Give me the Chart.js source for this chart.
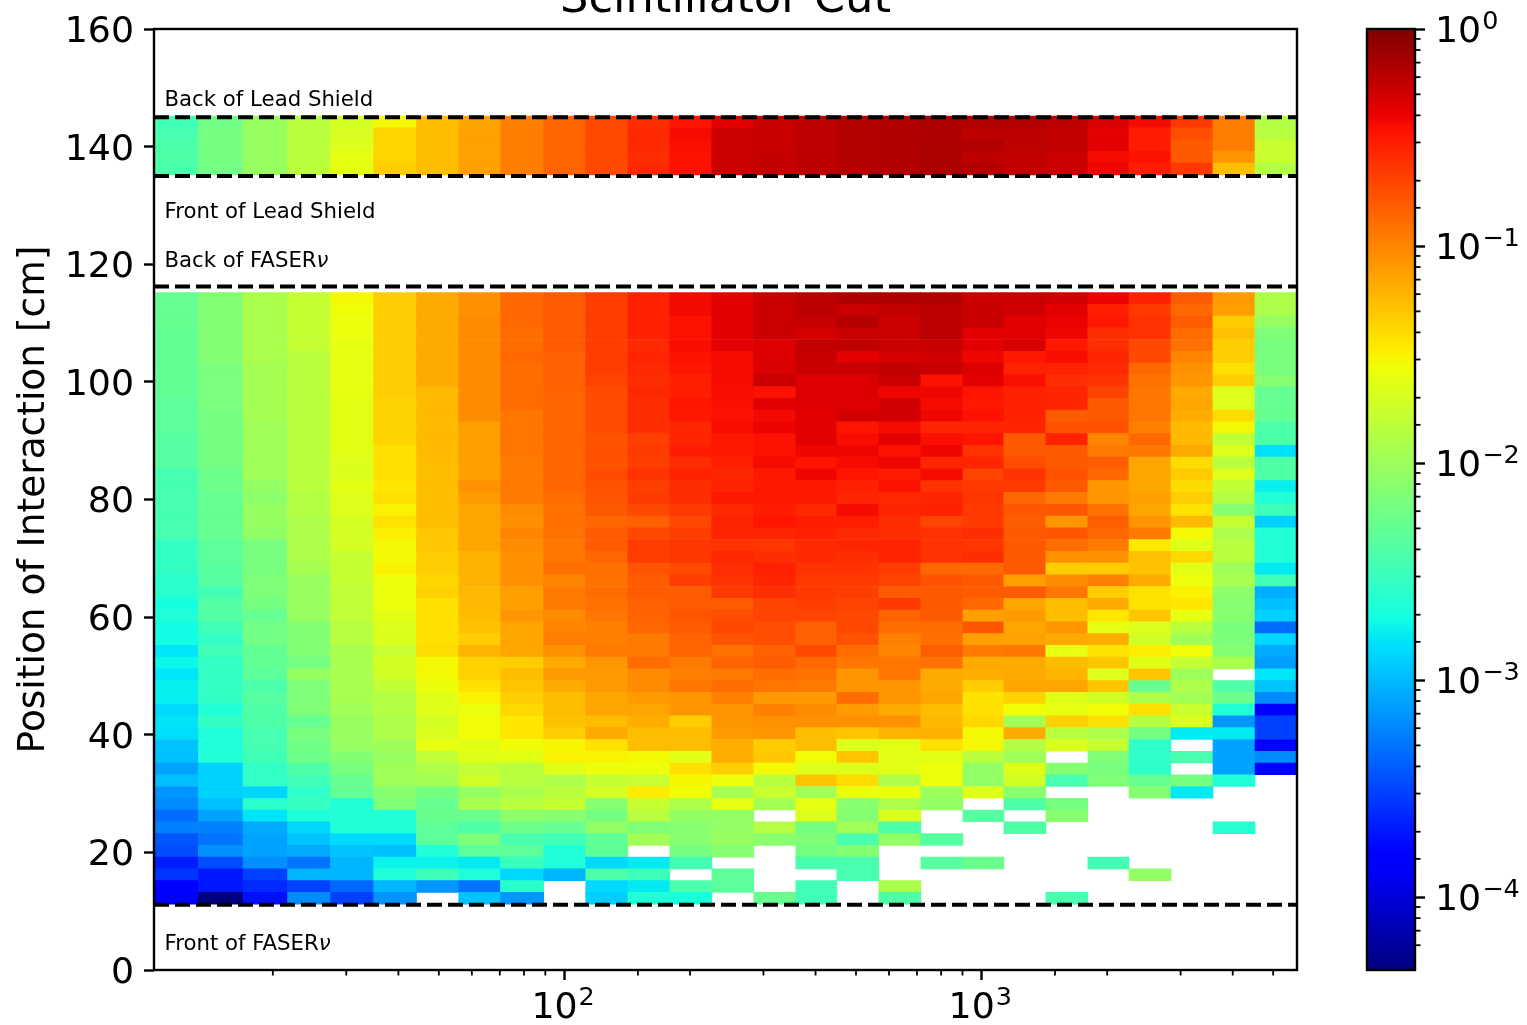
<!DOCTYPE html>
<html>
<head>
<meta charset="utf-8">
<title>Scintillator Cut</title>
<script src="https://cdn.jsdelivr.net/npm/chart.js@4/dist/chart.umd.min.js"></script>
<style>
  html, body { margin: 0; padding: 0; background: #fff; overflow: hidden; width: 1527px; height: 1025px; }
  canvas { position: absolute; top: -40px; }
</style>
</head>
<body>
<canvas id="mapa" width="1340" height="1065" style="left:0"></canvas>
<canvas id="barra" width="187" height="1065" style="left:1340px"></canvas>
<script>
// bin edges of the energy axis (27 bins)
const xEdges = [10.38, 13.27, 16.97, 21.7, 27.5, 34.9, 44.2, 55.8, 70.3, 89.2, 112.5, 141.9, 178.9, 225.6,
  284.4, 358.6, 449.8, 567.1, 715.2, 902, 1131, 1426, 1798, 2256, 2844, 3586, 4524, 5703];

// bin centres of the position axis, same order as the columns below (top to bottom)
const leadRows = [144.2, 142.2, 140.2, 138.2, 136.2];
const detectorRows = [114.2, 112.2, 110.2, 108.2, 106.2, 104.2, 102.2, 100.2, 98.2, 96.2, 94.2, 92.2, 90.2,
  88.2, 86.2, 84.2, 82.2, 80.2, 78.2, 76.2, 74.2, 72.2, 70.2, 68.2, 66.2, 64.2, 62.2, 60.2, 58.2, 56.2,
  54.2, 52.2, 50.2, 48.2, 46.2, 44.2, 42.2, 40.2, 38.2, 36.2, 34.2, 32.2, 30.2, 28.2, 26.2, 24.2, 22.2,
  20.2, 18.2, 16.2, 14.2, 12.2];

// log10 of the normalised rate, one list per energy bin, null = empty cell
const leadLog = [
  [-2.48, -2.44, -2.42, -2.4, -2.42],
  [-2.22, -2.2, -2.2, -2.2, -2.22],
  [-2.02, -2.02, -2.02, -2.02, -2.02],
  [-1.84, -1.84, -1.84, -1.84, -1.84],
  [-1.7, -1.68, -1.66, -1.6, -1.62],
  [-1.53, -1.37, -1.37, -1.37, -1.33],
  [-1.26, -1.26, -1.26, -1.26, -1.26],
  [-1.15, -1.13, -1.13, -1.13, -1.13],
  [-0.98, -0.97, -0.97, -0.97, -0.97],
  [-0.85, -0.85, -0.85, -0.85, -0.85],
  [-0.73, -0.73, -0.73, -0.73, -0.73],
  [-0.6, -0.58, -0.58, -0.6, -0.58],
  [-0.48, -0.44, -0.46, -0.47, -0.47],
  [-0.37, -0.29, -0.29, -0.29, -0.29],
  [-0.27, -0.27, -0.27, -0.26, -0.26],
  [-0.24, -0.24, -0.24, -0.23, -0.23],
  [-0.2, -0.2, -0.2, -0.2, -0.2],
  [-0.19, -0.19, -0.19, -0.19, -0.19],
  [-0.17, -0.18, -0.17, -0.17, -0.17],
  [-0.19, -0.23, -0.19, -0.23, -0.2],
  [-0.19, -0.23, -0.23, -0.25, -0.25],
  [-0.23, -0.25, -0.25, -0.28, -0.28],
  [-0.33, -0.38, -0.37, -0.44, -0.42],
  [-0.44, -0.52, -0.52, -0.47, -0.52],
  [-0.65, -0.75, -0.8, -0.8, -0.65],
  [-0.97, -0.97, -0.97, -1.08, -1.26],
  [-1.88, -1.86, -1.76, -1.76, -1.88]
];

const detectorLog = [
  [-2.28,-2.28,-2.28,-2.3,-2.3,-2.3,-2.3,-2.3,-2.3,-2.33,-2.33,-2.33,-2.37,-2.37,-2.37,-2.45,-2.45,-2.45,
   -2.45,-2.45,-2.45,-2.55,-2.55,-2.55,-2.6,-2.6,-2.7,-2.65,-2.72,-2.72,-2.82,-2.75,-2.82,-2.78,-2.78,-2.87,
   -2.83,-2.85,-2.96,-2.98,-3.1,-2.98,-3.16,-3.2,-3.33,-3.24,-3.43,-3.46,-3.67,-3.57,-3.82,-3.82],
  [-2.13,-2.13,-2.13,-2.13,-2.13,-2.13,-2.17,-2.17,-2.17,-2.17,-2.2,-2.2,-2.2,-2.2,-2.2,-2.25,-2.25,-2.28,
   -2.28,-2.28,-2.28,-2.33,-2.33,-2.36,-2.36,-2.47,-2.38,-2.38,-2.48,-2.55,-2.48,-2.55,-2.55,-2.55,-2.55,-2.65,
   -2.55,-2.66,-2.66,-2.65,-2.9,-2.9,-2.9,-2.98,-3.1,-3.24,-3.3,-3.18,-3.47,-3.7,-3.7,-4.33],
  [-1.92,-1.92,-1.92,-1.92,-1.92,-1.92,-1.95,-1.95,-1.95,-1.95,-1.95,-1.98,-1.98,-1.98,-1.98,-1.98,-2.05,-2.08,
   -2.03,-2.03,-2.06,-2.18,-2.18,-2.18,-2.16,-2.16,-2.2,-2.28,-2.22,-2.22,-2.3,-2.3,-2.33,-2.42,-2.36,-2.4,
   -2.4,-2.45,-2.45,-2.48,-2.56,-2.56,-2.88,-2.6,-2.82,-3.07,-3.1,-3.1,-3.18,-3.52,-3.62,-3.73],
  [-1.78,-1.78,-1.78,-1.78,-1.78,-1.84,-1.84,-1.84,-1.84,-1.84,-1.84,-1.84,-1.84,-1.84,-1.84,-1.84,-1.85,-1.88,
   -1.88,-1.9,-1.9,-1.9,-1.9,-1.95,-2.02,-2.02,-2.02,-2.02,-2.13,-2.13,-2.13,-2.2,-2.03,-2.16,-2.16,-2.15,
   -2.28,-2.18,-2.22,-2.24,-2.4,-2.48,-2.57,-2.53,-2.66,-2.88,-2.96,-3.07,-3.3,-3.02,-3.52,-3.2],
  [-1.53,-1.56,-1.58,-1.58,-1.6,-1.6,-1.6,-1.6,-1.6,-1.63,-1.63,-1.63,-1.63,-1.63,-1.66,-1.66,-1.62,-1.65,
   -1.65,-1.7,-1.7,-1.7,-1.78,-1.78,-1.78,-1.8,-1.8,-1.8,-1.86,-1.86,-1.93,-1.93,-1.93,-1.93,-1.93,-1.97,
   -2.02,-2.02,-2.02,-2.12,-2.18,-2.28,-2.3,-2.65,-2.65,-2.65,-2.86,-2.96,-3.02,-3.02,-3.35,-3.52],
  [-1.33,-1.33,-1.33,-1.33,-1.33,-1.33,-1.33,-1.33,-1.33,-1.36,-1.36,-1.36,-1.36,-1.42,-1.42,-1.42,-1.45,-1.42,
   -1.5,-1.43,-1.49,-1.54,-1.54,-1.5,-1.57,-1.57,-1.57,-1.63,-1.66,-1.66,-1.77,-1.7,-1.72,-1.8,-1.88,-1.88,
   -1.9,-1.9,-1.98,-2.02,-1.98,-1.98,-2.1,-2.15,-2.65,-2.65,-2.86,-2.98,-2.76,-2.66,-3.02,-3.16],
  [-1.17,-1.17,-1.17,-1.17,-1.17,-1.17,-1.17,-1.17,-1.24,-1.24,-1.24,-1.24,-1.24,-1.24,-1.26,-1.26,-1.26,-1.26,
   -1.26,-1.26,-1.31,-1.31,-1.33,-1.33,-1.37,-1.35,-1.42,-1.42,-1.42,-1.42,-1.4,-1.53,-1.53,-1.58,-1.64,-1.64,
   -1.7,-1.67,-1.6,-1.8,-1.9,-1.95,-2.2,-2.28,-2.26,-2.33,-2.33,-2.65,-2.76,-2.5,-3.16,null],
  [-1.05,-1.05,-1.03,-1.03,-1.03,-1.03,-1.03,-1.03,-1.03,-1.03,-1.03,-1.12,-1.12,-1.12,-1.12,-1.12,-1.06,-1.1,
   -1.15,-1.15,-1.15,-1.15,-1.21,-1.21,-1.21,-1.24,-1.24,-1.26,-1.28,-1.33,-1.22,-1.35,-1.35,-1.43,-1.5,-1.58,
   -1.55,-1.55,-1.63,-1.64,-1.8,-1.73,-2.03,-1.93,-2.26,-2.4,-2.16,-2.33,-2.8,-2.66,-3.3,-2.96],
  [-0.87,-0.87,-0.87,-0.89,-0.89,-0.87,-0.89,-0.89,-0.88,-0.88,-0.93,-0.93,-0.93,-0.93,-0.95,-0.95,-0.95,-0.95,
   -1.03,-1.05,-1,-1.03,-1.05,-1.05,-1.05,-1.12,-1.12,-1.08,-1.15,-1.15,-1.15,-1.33,-1.26,-1.3,-1.33,-1.38,
   -1.45,-1.45,-1.55,-1.63,-1.85,-1.85,-1.92,-1.85,-2.08,-2.24,-2.44,-2.33,-2.52,-2.87,-2.6,-3.15],
  [-0.81,-0.81,-0.81,-0.81,-0.81,-0.83,-0.83,-0.83,-0.85,-0.85,-0.85,-0.85,-0.85,-0.86,-0.86,-0.86,-0.86,-0.89,
   -0.91,-0.91,-0.91,-0.93,-0.93,-0.9,-1,-0.95,-0.95,-1.03,-1,-0.98,-1.05,-1.17,-1.1,-1.17,-1.26,-1.26,
   -1.28,-1.33,-1.52,-1.5,-1.64,-1.9,-1.84,-1.78,-2.1,-2.28,-2.48,-2.66,-2.66,-3.02,null,null],
  [-0.67,-0.67,-0.67,-0.67,-0.67,-0.67,-0.67,-0.7,-0.74,-0.74,-0.74,-0.74,-0.77,-0.77,-0.77,-0.74,-0.77,-0.78,
   -0.8,-0.87,-0.81,-0.81,-0.87,-0.91,-0.91,-0.89,-0.91,-0.93,-0.98,-0.98,-0.95,-1.08,-1.1,-1.1,-1.15,-1.15,
   -1.26,-1.17,-1.43,-1.5,-1.57,-1.78,-1.7,-2.1,-2.2,-2.05,-2.32,-2.32,-2.87,-2.42,-2.87,-2.92],
  [-0.54,-0.54,-0.54,-0.54,-0.58,-0.56,-0.58,-0.6,-0.58,-0.6,-0.6,-0.6,-0.68,-0.66,-0.68,-0.63,-0.68,-0.66,
   -0.72,-0.83,-0.72,-0.67,-0.67,-0.78,-0.81,-0.81,-0.83,-0.85,-0.87,-0.95,-0.95,-0.89,-1.03,-1.03,-1.1,-1.15,
   -1.19,-1.26,-1.26,-1.53,-1.57,-1.77,-1.47,-1.78,-1.84,-2.15,-1.97,null,-2.8,-2.5,-2.8,-2.65],
  [-0.43,-0.43,-0.47,-0.47,-0.45,-0.47,-0.49,-0.53,-0.53,-0.48,-0.5,-0.57,-0.56,-0.52,-0.59,-0.55,-0.59,-0.6,
   -0.65,-0.72,-0.67,-0.64,-0.64,-0.73,-0.67,-0.81,-0.81,-0.78,-0.81,-0.85,-0.85,-0.95,-0.98,-0.93,-1.08,-1.08,
   -1.33,-1.26,-1.26,-1.62,-1.42,-1.52,-1.55,-1.9,-2.05,-2.1,-2.1,-2.2,-2.47,null,-2.42,-2.68],
  [-0.37,-0.37,-0.37,-0.37,-0.37,-0.44,-0.44,-0.44,-0.45,-0.46,-0.47,-0.45,-0.5,-0.5,-0.53,-0.57,-0.55,-0.5,
   -0.58,-0.56,-0.56,-0.62,-0.58,-0.6,-0.62,-0.65,-0.81,-0.75,-0.72,-0.78,-0.91,-0.85,-0.95,-0.89,-0.98,-1.08,
   -1.08,-1.1,-1.19,-1.19,-1.33,-1.57,-1.95,-1.6,-2.05,-2.05,-2.02,-2.1,null,-2.33,-2.33,null],
  [-0.27,-0.28,-0.28,-0.28,-0.35,-0.35,-0.33,-0.28,-0.47,-0.37,-0.43,-0.41,-0.47,-0.47,-0.44,-0.5,-0.5,-0.5,
   -0.52,-0.48,-0.56,-0.64,-0.6,-0.54,-0.56,-0.6,-0.7,-0.7,-0.75,-0.75,-0.83,-0.81,-0.89,-0.93,-1.1,-0.98,
   -1.05,-1.08,-1.33,-1.31,-1.54,-1.85,-1.76,-1.96,null,-1.87,-2.1,null,null,null,null,-2.27],
  [-0.22,-0.23,-0.26,-0.32,-0.25,-0.27,-0.28,-0.35,-0.35,-0.35,-0.37,-0.37,-0.37,-0.42,-0.48,-0.42,-0.5,-0.5,
   -0.58,-0.52,-0.54,-0.58,-0.58,-0.62,-0.65,-0.65,-0.67,-0.7,-0.83,-0.83,-0.73,-0.87,-0.91,-0.95,-1.1,-1.03,
   -1.05,-1.26,-1.26,-1.55,-1.65,-1.29,-1.97,-1.6,-1.65,-2.2,-2.15,-2.2,-2.44,null,-2.47,-2.48],
  [-0.18,-0.28,-0.2,-0.28,-0.23,-0.37,-0.27,-0.35,-0.35,-0.35,-0.31,-0.48,-0.45,-0.42,-0.44,-0.48,-0.54,-0.56,
   -0.44,-0.52,-0.58,-0.56,-0.6,-0.62,-0.65,-0.67,-0.7,-0.72,-0.72,-0.76,-0.89,-0.93,-1.08,-1.08,-0.89,-1.1,
   -1.05,-1.3,-1.65,-1.3,-1.65,-1.4,-1.58,-2.1,-2.12,-1.97,-2.44,-2.12,-2.44,-2.44,null,null],
  [-0.18,-0.25,-0.28,-0.28,-0.28,-0.32,-0.25,-0.28,-0.42,-0.31,-0.31,-0.44,-0.38,-0.47,-0.42,-0.52,-0.47,-0.58,
   -0.56,-0.6,-0.6,-0.55,-0.56,-0.67,-0.7,-0.81,-0.65,-0.85,-0.89,-0.98,-1,-0.93,-0.93,-1.08,-1.08,-1.17,
   -1.05,-1.22,-1.63,-1.63,-1.63,-1.9,-1.58,-1.9,-1.67,-2.42,-2.05,null,null,null,-1.92,-2.4],
  [-0.19,-0.22,-0.22,-0.22,-0.27,-0.31,-0.28,-0.47,-0.42,-0.44,-0.42,-0.56,-0.46,-0.42,-0.56,-0.44,-0.62,-0.56,
   -0.54,-0.7,-0.62,-0.62,-0.62,-0.87,-0.76,-0.8,-0.8,-0.8,-0.89,-0.9,-0.82,-0.91,-1.17,-1.17,-1.15,-1.26,
   -1.24,-1.2,-1.42,-1.63,-1.57,-1.57,-2,-2.05,null,null,-2.36,null,-2.36,null,null,null],
  [-0.28,-0.27,-0.27,-0.37,-0.37,-0.42,-0.35,-0.38,-0.48,-0.5,-0.47,-0.56,-0.48,-0.62,-0.56,-0.7,-0.65,-0.64,
   -0.65,-0.66,-0.6,-0.64,-0.6,-0.87,-0.8,-0.81,-0.87,-1.12,-0.79,-1.12,-0.95,-1.17,-1.19,-1.33,-1.43,-1.42,
   -1.38,-1.53,-1.53,-1.84,-2.05,-2.05,-1.65,null,-2.36,null,null,null,-2.26,null,null,null],
  [-0.28,-0.3,-0.37,-0.37,-0.32,-0.5,-0.54,-0.46,-0.54,-0.54,-0.54,-0.56,-0.8,-0.8,-0.74,-0.62,-0.65,-0.87,
   -0.79,-0.82,-0.8,-0.8,-0.8,-0.8,-1.12,-0.81,-1.15,-1.1,-1.15,-1.13,-0.93,-1.17,-1.17,-1.15,-1.35,-1.55,
   -1.96,-1.17,-1.88,-1.98,-1.65,-1.72,-2.1,-2.4,null,-2.4,null,null,null,null,null,null],
  [-0.3,-0.37,-0.4,-0.42,-0.5,-0.45,-0.54,-0.6,-0.56,-0.56,-0.81,-0.77,-0.54,-0.8,-0.8,-0.77,-0.8,-0.95,
   -0.79,-1.08,-0.79,-0.89,-1.05,-1.33,-1.03,-0.93,-1.26,-1.26,-1.08,-1.17,-1.6,-1.26,-1.22,-1.15,-1.64,-1.6,
   -1.35,-1.84,-1.67,null,-2.12,-2.44,null,-2.2,-2.1,null,null,null,null,null,null,-2.44],
  [-0.41,-0.53,-0.5,-0.6,-0.6,-0.56,-0.58,-0.62,-0.7,-0.8,-0.8,-0.77,-1,-0.94,-0.82,-0.87,-1.08,-1.08,
   -0.91,-0.82,-0.87,-0.95,-1.05,-1.33,-0.98,-1.33,-1.17,-1.45,-1.6,-1.19,-1.43,-1.3,-1.65,-1.3,-1.72,-1.55,
   -1.42,-1.9,-1.78,-2.15,-2.18,-2.15,null,null,null,null,null,null,-2.47,null,null,null],
  [-0.54,-0.65,-0.62,-0.62,-0.72,-0.72,-0.87,-0.91,-0.93,-0.93,-0.93,-0.98,-0.87,-0.93,-1.15,-1.15,-1.15,-1.12,
   -1.15,-1.08,-0.95,-1.45,-1.28,-1.28,-1.17,-1.43,-1.43,-1.3,-1.66,-1.72,-1.48,-1.63,-1.3,-2.28,-1.9,-1.42,
   -1.86,-2.2,-2.57,-2.57,-2.57,-2.28,-2.12,null,null,null,null,null,null,-2.05,null,null],
  [-0.81,-0.87,-0.81,-0.89,-0.91,-1,-1.05,-1.08,-1.17,-1.15,-1.19,-1.24,-1.24,-1.17,-1.4,-1.32,-1.4,-1.33,
   -1.43,-1.24,-1.53,-1.64,-1.38,-1.63,-1.57,-1.5,-1.45,-1.6,-1.84,-1.97,-1.55,-1.78,-2,-1.9,-1.97,-1.76,
   -1.67,-2.8,null,-2.44,null,-2.2,-2.8,null,null,null,null,null,null,null,null,null],
  [-1.1,-1.12,-1.33,-1.28,-1.33,-1.33,-1.42,-1.33,-1.66,-1.65,-1.4,-1.53,-1.8,-1.65,-1.85,-1.65,-1.8,-1.88,
   -2.1,-1.78,-1.9,-1.84,-1.85,-1.98,-1.93,-2.08,-2.1,-2.1,-2.18,-2.16,-2.13,-1.93,null,-2.4,-2.25,-2.65,
   -3.15,-2.8,-3.1,-3.1,-3.1,-2.65,null,null,null,-2.62,null,null,null,null,null,null],
  [-1.9,-1.9,-2.03,-2.16,-2.18,-2.18,-2.18,-2.11,-2.28,-2.28,-2.28,-2.42,-2.42,-2.84,-2.4,-2.4,-2.78,-2.65,
   -2.5,-2.9,-2.65,-2.65,-2.65,-2.8,-2.48,-3.05,-2.98,-2.9,-3.33,-2.88,-3.07,-3.12,-2.82,-2.96,-3.2,-3.82,
   -3.52,-3.52,-3.84,-3.2,-3.84,null,null,null,null,null,null,null,null,null,null,null]
];

// dashed marker lines and their captions
const markerLines = [145, 135, 116.2, 11.1];
const captions = ['Back of Lead Shield', 'Front of Lead Shield', 'Back of FASER', 'Front of FASER'];
const captionNu = [false, false, true, true];
const captionX = [11, 11, 11, 11];
const captionY = [146.9, 127.9, 119.6, 3.4];

const colorMinLog = -4.336;
const fuente = 'DejaVu Sans';

// matplotlib jet
const jetR = [[0, 0], [0.35, 0], [0.66, 1], [0.89, 1], [1, 0.5]];
const jetG = [[0, 0], [0.125, 0], [0.375, 1], [0.64, 1], [0.91, 0], [1, 0]];
const jetB = [[0, 0.5], [0.11, 1], [0.34, 1], [0.65, 0], [1, 0]];
const jetStops = [0, 0.11, 0.125, 0.34, 0.35, 0.375, 0.64, 0.65, 0.66, 0.89, 0.91, 1];

function canal(seg, t) {
  for (let i = 1; i < seg.length; i++) {
    if (t <= seg[i][0]) {
      const f = (t - seg[i - 1][0]) / (seg[i][0] - seg[i - 1][0]);
      return Math.round(255 * (seg[i - 1][1] + f * (seg[i][1] - seg[i - 1][1])));
    }
  }
  return Math.round(255 * seg[seg.length - 1][1]);
}

function jet(t) {
  t = Math.min(1, Math.max(0, t));
  return `rgb(${canal(jetR, t)},${canal(jetG, t)},${canal(jetB, t)})`;
}

function colorDeLog(v) {
  return jet((v - colorMinLog) / (0 - colorMinLog));
}

function esPotencia(v) {
  const l = Math.log10(v);
  return Math.abs(l - Math.round(l)) < 1e-9;
}

const celdas = [];
const colores = [];

function agregar(columnas, filas) {
  columnas.forEach((col, c) => {
    col.forEach((v, r) => {
      if (v === null) return;
      celdas.push({ x: [xEdges[c], xEdges[c + 1]], y: filas[r] });
      colores.push(colorDeLog(v));
    });
  });
}
agregar(leadLog, leadRows);
agregar(detectorLog, detectorRows);

function ticksMenores(ctx, scale, horizontal, area) {
  ctx.save();
  ctx.strokeStyle = '#000';
  ctx.lineWidth = 1.8;
  scale.ticks.forEach(t => {
    if (esPotencia(t.value) || t.value <= scale.min || t.value >= scale.max) return;
    const p = scale.getPixelForValue(t.value);
    ctx.beginPath();
    if (horizontal) {
      ctx.moveTo(p, area.bottom);
      ctx.lineTo(p, area.bottom + 5.5);
    } else {
      ctx.moveTo(area.right, p);
      ctx.lineTo(area.right + 5.5, p);
    }
    ctx.stroke();
  });
  ctx.restore();
}

function marco(ctx, area) {
  ctx.save();
  ctx.strokeStyle = '#000';
  ctx.lineWidth = 2.4;
  ctx.strokeRect(area.left, area.top, area.right - area.left, area.bottom - area.top);
  ctx.restore();
}

// 10 with a raised exponent, the way the reference sets its log labels
function potencia(ctx, v, x, base) {
  const e = String(Math.round(Math.log10(v))).replace('-', '\u2212');
  ctx.save();
  ctx.fillStyle = '#000';
  ctx.textAlign = 'left';
  ctx.textBaseline = 'alphabetic';
  ctx.font = `36.3px "${fuente}"`;
  ctx.fillText('10', x, base);
  const w = ctx.measureText('10').width;
  ctx.font = `25.5px "${fuente}"`;
  ctx.fillText(e, x + w + 1, base - 13);
  ctx.restore();
}

const pluginMapa = {
  id: 'pluginMapa',
  afterDraw(chart) {
    const { ctx, chartArea, scales } = chart;
    marco(ctx, chartArea);
    ticksMenores(ctx, scales.x, true, chartArea);
    scales.x.ticks.forEach(t => {
      if (esPotencia(t.value)) potencia(ctx, t.value, scales.x.getPixelForValue(t.value) - 33, chartArea.bottom + 48);
    });
    ctx.save();
    ctx.fillStyle = '#000';
    ctx.textBaseline = 'alphabetic';
    captions.forEach((txt, i) => {
      const px = scales.x.getPixelForValue(captionX[i]);
      const py = scales.y.getPixelForValue(captionY[i]);
      ctx.font = `21.25px "${fuente}"`;
      ctx.fillText(txt, px, py);
      if (captionNu[i]) {
        const w = ctx.measureText(txt).width;
        ctx.font = `italic 21.25px "${fuente}"`;
        ctx.fillText('ν', px + w, py);
      }
    });
    ctx.restore();
  }
};

new Chart(document.getElementById('mapa'), {
  type: 'bar',
  data: {
    datasets: [
      ...markerLines.map(y => ({
        type: 'scatter',
        indexAxis: 'x',
        order: 0,
        showLine: true,
        data: [{ x: xEdges[0], y: y }, { x: xEdges[xEdges.length - 1], y: y }],
        borderColor: '#000',
        borderWidth: 4,
        borderDash: [15, 6],
        pointRadius: 0,
        fill: false
      })),
      {
        order: 1,
        data: celdas,
        backgroundColor: colores,
        borderWidth: 0,
        barPercentage: 1,
        categoryPercentage: 1
      }
    ]
  },
  options: {
    indexAxis: 'y',
    responsive: false,
    animation: false,
    layout: { padding: { left: 0, right: 43, top: 0, bottom: 0 } },
    plugins: {
      legend: { display: false },
      tooltip: { enabled: false },
      title: {
        display: true,
        text: 'Scintillator Cut',
        fullSize: false,
        color: '#000',
        font: { family: fuente, size: 44.8, weight: 'normal', lineHeight: 1 },
        padding: { top: 18, bottom: 6.2 }
      }
    },
    scales: {
      x: {
        type: 'logarithmic',
        offset: false,
        min: xEdges[0],
        max: xEdges[xEdges.length - 1],
        afterFit: s => { s.height = 55; },
        border: { display: false },
        grid: {
          offset: false,
          drawOnChartArea: false,
          tickLength: 10,
          tickWidth: 2.4,
          tickColor: c => (c.tick && esPotencia(c.tick.value) ? '#000' : 'rgba(0,0,0,0)')
        },
        ticks: {
          autoSkip: false,
          maxRotation: 0,
          padding: 4,
          color: '#000',
          font: { family: fuente, size: 36 },
          callback: () => ''
        }
      },
      y: {
        type: 'linear',
        offset: false,
        min: 0,
        max: 160,
        afterFit: s => { s.width = 154; },
        border: { display: false },
        title: {
          display: true,
          text: 'Position of Interaction [cm]',
          color: '#000',
          font: { family: fuente, size: 37.5, weight: 'normal' },
          padding: { top: 12, bottom: 0 }
        },
        grid: { offset: false, drawOnChartArea: false, tickLength: 10, tickWidth: 2.4, tickColor: '#000' },
        ticks: {
          stepSize: 20,
          padding: 10,
          labelOffset: 3.5,
          color: '#000',
          font: { family: fuente, size: 36.3 }
        }
      }
    }
  },
  plugins: [pluginMapa]
});

const pluginBarra = {
  id: 'pluginBarra',
  afterDraw(chart) {
    const { ctx, chartArea, scales } = chart;
    marco(ctx, chartArea);
    ticksMenores(ctx, scales.y, false, chartArea);
    scales.y.ticks.forEach(t => {
      if (esPotencia(t.value)) potencia(ctx, t.value, chartArea.right + 20, scales.y.getPixelForValue(t.value) + 13);
    });
  }
};

const minBarra = Math.pow(10, colorMinLog);

new Chart(document.getElementById('barra'), {
  type: 'bar',
  data: {
    labels: [''],
    datasets: [{
      data: [[minBarra, 1]],
      borderWidth: 0,
      barPercentage: 1,
      categoryPercentage: 1,
      backgroundColor: c => {
        const area = c.chart.chartArea;
        if (!area) return '#000';
        const g = c.chart.ctx.createLinearGradient(0, area.bottom, 0, area.top);
        jetStops.forEach(t => g.addColorStop(t, jet(t)));
        return g;
      }
    }]
  },
  options: {
    responsive: false,
    animation: false,
    layout: { padding: { left: 27, right: 0, top: 69, bottom: 55 } },
    plugins: { legend: { display: false }, tooltip: { enabled: false } },
    scales: {
      x: { display: false },
      y: {
        type: 'logarithmic',
        position: 'right',
        min: minBarra,
        max: 1,
        afterFit: s => { s.width = 112; },
        border: { display: false },
        grid: {
          drawOnChartArea: false,
          tickLength: 10,
          tickWidth: 2.4,
          tickColor: c => (c.tick && esPotencia(c.tick.value) ? '#000' : 'rgba(0,0,0,0)')
        },
        ticks: {
          autoSkip: false,
          padding: 10,
          color: '#000',
          font: { family: fuente, size: 36 },
          callback: () => ''
        }
      }
    }
  },
  plugins: [pluginBarra]
});
</script>
</body>
</html>
